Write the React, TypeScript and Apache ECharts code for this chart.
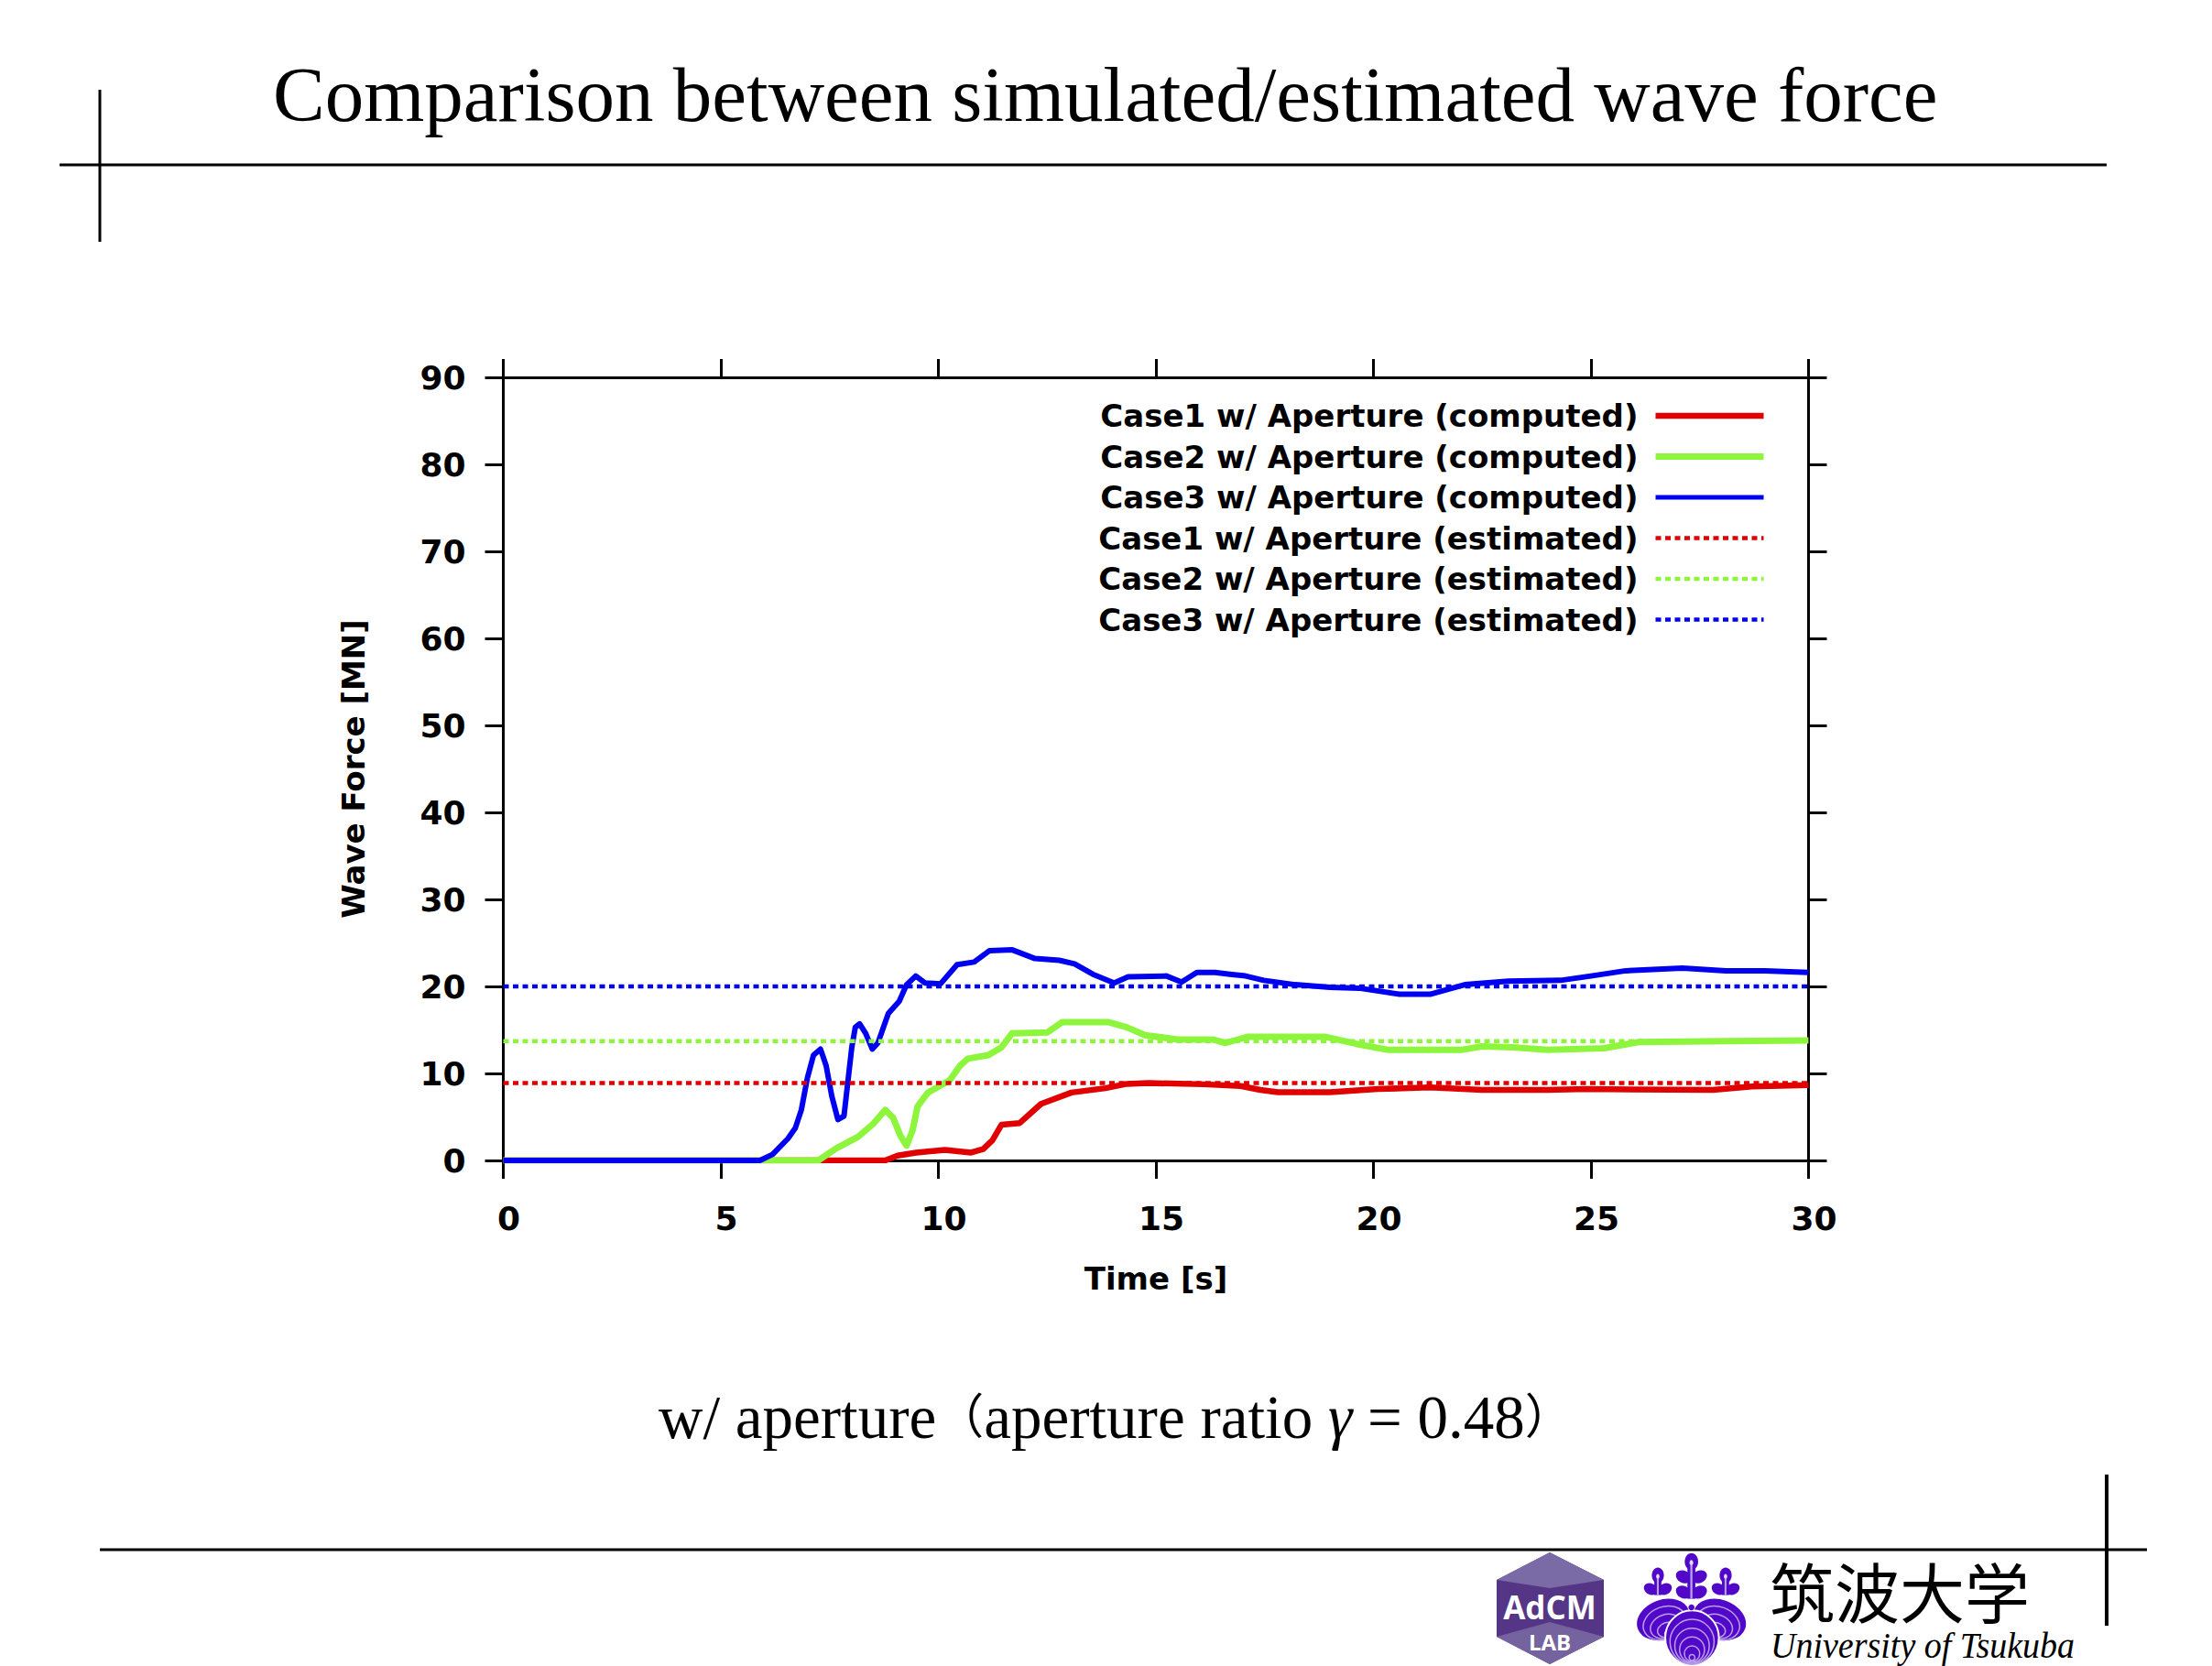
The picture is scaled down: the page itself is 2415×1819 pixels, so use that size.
import React, { useEffect, useRef } from "react";
import * as echarts from "echarts";

const titleText = "Comparison between simulated/estimated wave force";
const estimatedTime = [0, 30];

const case1Time = [0, 7.3, 8.78, 9.06, 9.49, 10.15, 10.75, 11.03, 11.24, 11.45, 11.87, 12.36, 13.06, 13.84, 14.33, 14.82, 16.1, 16.95, 17.4, 17.8, 19, 20.1, 21.3, 22.5, 24, 24.9, 27.8, 28.7, 30];
const case1Force = [0, 0, 0, 0.55, 0.9, 1.2, 0.9, 1.3, 2.3, 4.1, 4.3, 6.5, 7.8, 8.3, 8.8, 8.9, 8.75, 8.55, 8.1, 7.85, 7.85, 8.2, 8.4, 8.1, 8.1, 8.2, 8.1, 8.5, 8.65];

const case2Time = [0, 7.24, 7.66, 8.15, 8.5, 8.78, 8.96, 9.13, 9.27, 9.41, 9.52, 9.76, 10.05, 10.26, 10.5, 10.68, 11.15, 11.45, 11.69, 12.5, 12.85, 13.9, 14.33, 14.75, 15.5, 16.3, 16.6, 17.1, 18.9, 19.6, 20.35, 22, 22.5, 23.2, 24, 25.3, 26.1, 28.1, 30];
const case2Force = [0, 0, 1.4, 2.7, 4.2, 5.8, 4.9, 2.8, 1.7, 3.5, 6.2, 7.8, 8.6, 9.2, 10.9, 11.7, 12.1, 13, 14.6, 14.7, 15.9, 15.9, 15.3, 14.4, 13.9, 13.9, 13.5, 14.2, 14.2, 13.4, 12.7, 12.7, 13.1, 13, 12.7, 12.9, 13.6, 13.7, 13.8];

const case3Time = [0, 5.9, 6.19, 6.54, 6.71, 6.85, 6.99, 7.13, 7.29, 7.42, 7.55, 7.69, 7.83, 7.93, 8.01, 8.09, 8.19, 8.33, 8.48, 8.61, 8.85, 9.1, 9.27, 9.48, 9.69, 10.05, 10.43, 10.82, 11.17, 11.7, 12.22, 12.78, 13.13, 13.55, 14.04, 14.36, 15.24, 15.59, 15.94, 16.36, 16.7, 17.06, 17.48, 18.2, 19, 19.67, 20.6, 21.3, 22.1, 23.1, 24.3, 25, 25.8, 27.1, 28.1, 29, 30];
const case3Force = [0, 0, 0.7, 2.5, 3.7, 5.8, 9.5, 12.1, 12.8, 10.9, 7.4, 4.7, 5.1, 9.5, 13, 15.3, 15.7, 14.6, 12.8, 13.5, 16.9, 18.3, 20.2, 21.2, 20.4, 20.3, 22.5, 22.8, 24.1, 24.2, 23.2, 23, 22.6, 21.4, 20.4, 21.1, 21.2, 20.5, 21.6, 21.6, 21.4, 21.2, 20.7, 20.2, 19.9, 19.8, 19.1, 19.1, 20.2, 20.6, 20.7, 21.2, 21.8, 22.1, 21.8, 21.8, 21.6];

const case1Estimated = [8.9, 8.9];
const case2Estimated = [13.7, 13.7];
const case3Estimated = [20, 20];

const names = [
  "Case1 w/ Aperture (computed)",
  "Case2 w/ Aperture (computed)",
  "Case3 w/ Aperture (computed)",
  "Case1 w/ Aperture (estimated)",
  "Case2 w/ Aperture (estimated)",
  "Case3 w/ Aperture (estimated)",
];
const legendWidths = [6.5, 7, 5, 4.5, 4.5, 4.5];

const RED = "#e00000";
const GREEN = "#8cf53c";
const BLUE = "#0000f0";
const SANS = "'DejaVu Sans', sans-serif";
const SERIF = "'Liberation Serif', 'Noto Sans CJK JP', serif";
const PURPLE = "#5208c8";
const VEIN = "#b9a0ea";

const zip = (t: number[], v: number[]) => t.map((x, i) => [x, v[i]]);

function line(x1: number, y1: number, x2: number, y2: number, w = 3) {
  return { type: "line", shape: { x1, y1, x2, y2 }, style: { stroke: "#000", lineWidth: w }, silent: true };
}

function poly(points: number[][], fill: string) {
  return { type: "polygon", shape: { points }, style: { fill }, silent: true };
}

function blob(cx: number, cy: number, rx: number, ry: number, rotation = 0) {
  return { type: "ellipse", x: cx, y: cy, rotation, shape: { cx: 0, cy: 0, rx, ry }, style: { fill: PURPLE }, silent: true };
}

// A leaf of the emblem: a filled ellipse with nested veins meeting at its tip.
function leaf(cx: number, cy: number, rx: number, ry: number, rotation: number, n: number) {
  const children: any[] = [
    { type: "ellipse", shape: { cx: 0, cy: 0, rx, ry }, style: { fill: PURPLE, stroke: "#fff", lineWidth: 6 } },
  ];
  for (let i = 1; i <= n; i++) {
    const k = 1 - i / (n + 0.6);
    children.push({
      type: "ellipse",
      shape: { cx: 0, cy: ry * (1 - k) * 0.8, rx: rx * k, ry: ry * k },
      style: { fill: "none", stroke: VEIN, lineWidth: 4.5 },
    });
  }
  return { type: "group", x: cx, y: cy, rotation, silent: true, children };
}

function flower(cx: number, topY: number, s: number, tiers: number) {
  const bottom = topY + (72 + (tiers - 1) * 50) * s;
  const out: any[] = [
    { type: "rect", shape: { x: cx - 13 * s, y: topY, width: 26 * s, height: bottom - topY }, style: { fill: PURPLE } },
    blob(cx, topY, 22 * s, 28 * s),
  ];
  for (let i = 0; i < tiers; i++) {
    const y = topY + (50 + i * 50) * s;
    out.push(blob(cx - 26 * s, y, 26 * s, 20 * s, -0.5), blob(cx + 26 * s, y, 26 * s, 20 * s, 0.5));
  }
  out.push(
    { type: "line", shape: { x1: cx, y1: topY + 12 * s, x2: cx, y2: bottom }, style: { stroke: VEIN, lineWidth: 7 * s } },
    { type: "ellipse", shape: { cx, cy: topY + 4 * s, rx: 6 * s, ry: 9 * s }, style: { fill: "#e6dcf8" } },
  );
  return out;
}

const emblem = {
  type: "group",
  x: 1780,
  y: 1690,
  scaleX: 1 / 3,
  scaleY: 1 / 3,
  silent: true,
  children: [
    ...flower(200, 45, 1, 2),
    ...flower(90, 90, 0.9, 1),
    ...flower(312, 90, 0.9, 1),
    leaf(108, 235, 92, 68, 0.35, 4),
    leaf(292, 235, 92, 68, -0.35, 4),
    leaf(202, 295, 88, 90, 0, 5),
    blob(200, 195, 10, 10),
  ],
};

const graphics: any[] = [
  line(65, 180, 2300, 180),
  line(109, 98, 109, 264),
  line(109, 1692, 2344, 1692),
  line(2300, 1610, 2300, 1775, 4),
  {
    type: "text",
    x: 719,
    y: 1547,
    style: {
      text: "w/ aperture{p|（}aperture ratio {i|γ} = 0.48{p|）}",
      font: `67px ${SERIF}`,
      fill: "#000",
      verticalAlign: "middle",
      rich: {
        i: { font: `italic 67px ${SERIF}`, fill: "#000" },
        p: { font: `52px ${SERIF}`, fill: "#000" },
      },
    },
  },
  // AdCM LAB hexagon
  poly([[1634, 1725], [1692, 1695], [1751, 1725], [1751, 1787], [1692, 1817], [1634, 1787]], "#553585"),
  poly([[1634, 1725], [1692, 1695], [1751, 1725], [1692, 1734]], "#7a6aa6"),
  poly([[1634, 1787], [1692, 1771], [1751, 1787], [1692, 1817]], "#7563a0"),
  { type: "text", x: 1692, y: 1754, style: { text: "AdCM", font: `bold 35px 'Open Sans', sans-serif`, fill: "#fff", align: "center", verticalAlign: "middle" } },
  { type: "text", x: 1692, y: 1792, style: { text: "LAB", font: `bold 24px 'Open Sans', sans-serif`, fill: "#fff", align: "center", verticalAlign: "middle" } },
  emblem,
  // University mark
  { type: "text", x: 1932, y: 1735, style: { text: "筑波大学", font: `71px 'Noto Sans CJK JP', sans-serif`, fill: "#000", verticalAlign: "middle" } },
  { type: "text", x: 1933, y: 1796, scaleX: 0.95, style: { text: "University of Tsukuba", font: `italic 40px 'Liberation Serif', serif`, fill: "#000", verticalAlign: "middle" } },
];

const axisLine = { show: true, onZero: false, lineStyle: { color: "#000", width: 3 } };
const axisTick = { show: true, inside: false, length: 20, lineStyle: { color: "#000", width: 3 } };

const solid = (name: string, data: number[][], color: string, width: number) => ({
  name, type: "line", data, symbol: "none", showSymbol: false, smooth: false,
  lineStyle: { color, width, join: "round" }, itemStyle: { color },
  xAxisIndex: 0, yAxisIndex: 0, silent: true,
});

const dotted = (name: string, data: number[][], color: string) => ({
  name, type: "line", data, symbol: "none", showSymbol: false,
  lineStyle: { color, width: 4.5, type: [6, 4.5] }, itemStyle: { color },
  xAxisIndex: 0, yAxisIndex: 0, silent: true,
});

export default function App() {
  const ref = useRef<HTMLDivElement>(null);
  useEffect(() => {
    const chart = echarts.init(ref.current!, null, { renderer: "svg" });
    chart.setOption({
      animation: false,
      backgroundColor: "#fff",
      title: {
        text: titleText,
        left: 293,
        top: 55,
        textStyle: { fontFamily: SERIF, fontWeight: "normal", fontSize: 85, color: "#000" },
      },
      legend: {
        orient: "vertical",
        right: 486,
        top: 437,
        align: "right",
        itemWidth: 118,
        itemHeight: 30,
        itemGap: 10.5,
        padding: 0,
        itemStyle: { opacity: 0 },
        textStyle: { fontFamily: SANS, fontWeight: "bold", fontSize: 34, lineHeight: 30, color: "#000", padding: [0, 14, 0, 0] },
        data: names.map((name, i) => ({ name, lineStyle: { width: legendWidths[i] } })),
      },
      grid: { left: 549.5, top: 412, width: 1425, height: 855, containLabel: false },
      xAxis: [
        {
          type: "value", min: 0, max: 30, interval: 5, position: "bottom",
          name: "Time [s]", nameLocation: "middle", nameGap: 112,
          nameTextStyle: { fontFamily: SANS, fontWeight: "bold", fontSize: 34, color: "#000" },
          axisLine, axisTick, splitLine: { show: false },
          axisLabel: { margin: 45, fontFamily: SANS, fontWeight: "bold", fontSize: 36, color: "#000", padding: [0, 0, 0, 12] },
        },
        {
          type: "value", min: 0, max: 30, interval: 5, position: "top",
          axisLine, axisTick, splitLine: { show: false }, axisLabel: { show: false },
        },
      ],
      yAxis: [
        {
          type: "value", min: 0, max: 90, interval: 10, position: "left",
          name: "Wave Force [MN]", nameLocation: "middle", nameGap: 147, nameRotate: 90,
          nameTextStyle: { fontFamily: SANS, fontWeight: "bold", fontSize: 34, color: "#000" },
          axisLine, axisTick, splitLine: { show: false },
          axisLabel: { margin: 41, fontFamily: SANS, fontWeight: "bold", fontSize: 36, color: "#000" },
        },
        {
          type: "value", min: 0, max: 90, interval: 10, position: "right",
          axisLine, axisTick, splitLine: { show: false }, axisLabel: { show: false },
        },
      ],
      series: [
        solid(names[0], zip(case1Time, case1Force), RED, 6.5),
        solid(names[1], zip(case2Time, case2Force), GREEN, 7),
        solid(names[2], zip(case3Time, case3Force), BLUE, 6),
        dotted(names[3], zip(estimatedTime, case1Estimated), RED),
        dotted(names[4], zip(estimatedTime, case2Estimated), GREEN),
        dotted(names[5], zip(estimatedTime, case3Estimated), BLUE),
      ],
      graphic: graphics,
    });
    return () => chart.dispose();
  }, []);
  return <div ref={ref} style={{ position: "absolute", left: 0, top: 0, width: 2415, height: 1819, background: "#fff" }} />;
}
